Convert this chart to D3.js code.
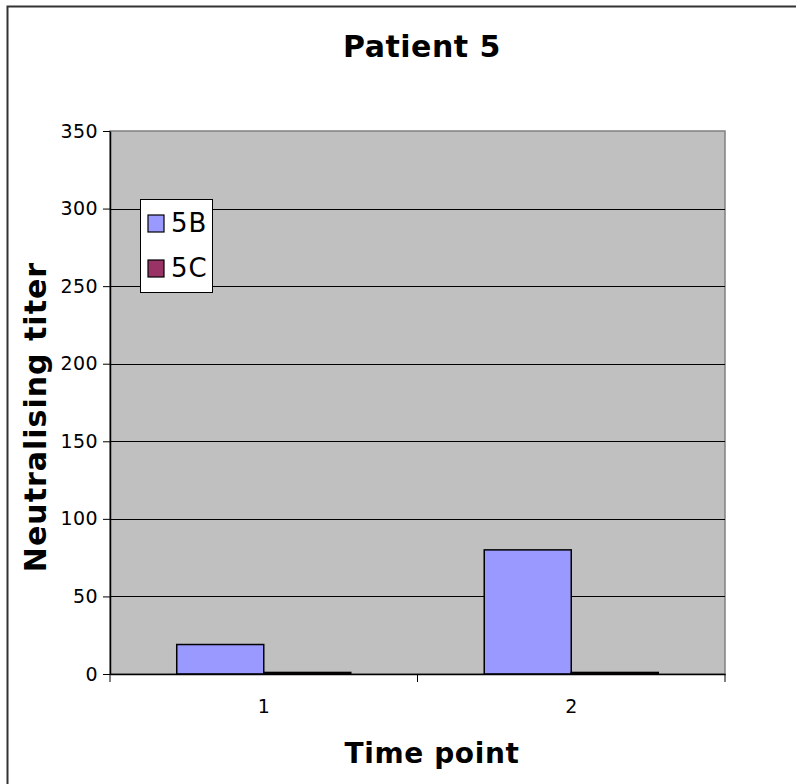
<!doctype html>
<html>
  <head>
    <meta charset="utf-8">
    <script src="https://cdn.jsdelivr.net/npm/d3@7"></script>
    <style>
      body { margin: 0; background: white; }
      svg text { font-family: "DejaVu Sans", Verdana, sans-serif; }
    </style>
  </head>
  <body>
    <svg id="chart" width="796" height="784"></svg>
    <script>
      // data
      const timePoints = ["1", "2"]
      const seriesNames = ["5B", "5C"]
      const seriesColors = ["#9999ff", "#993366"]
      const values5B = [19, 80]
      const values5C = [1, 1]
      const yTicks = [0, 50, 100, 150, 200, 250, 300, 350]

      const rows = timePoints.map((t, i) => ({ t: t, "5B": values5B[i], "5C": values5C[i] }))

      const plot = { left: 110, right: 725, top: 131, bottom: 674 }

      const svg = d3.select("#chart")

      // outer frame (runs off the right and bottom of the picture)
      svg.append("rect")
        .attr("x", 7.5).attr("y", 6.5)
        .attr("width", 820).attr("height", 820)
        .attr("fill", "white")
        .attr("stroke", "#333").attr("stroke-width", 2)

      const x0 = d3.scaleBand().domain(timePoints).range([plot.left, plot.right]).padding(0)
      const x1 = d3.scaleBand().domain(seriesNames).range([0, x0.bandwidth()])
                   .paddingInner(0).paddingOuter(0.767)
      const y = d3.scaleLinear().domain([0, 350]).range([plot.bottom, plot.top])
      const color = d3.scaleOrdinal().domain(seriesNames).range(seriesColors)

      // plot area
      svg.append("rect")
        .attr("x", plot.left).attr("y", plot.top)
        .attr("width", plot.right - plot.left).attr("height", plot.bottom - plot.top)
        .attr("fill", "#c0c0c0")
        .attr("stroke", "#808080").attr("stroke-width", 1.5)

      // gridlines
      svg.append("g")
        .selectAll("line")
        .data(yTicks.filter(d => d > 0 && d < 350))
        .enter().append("line")
          .attr("x1", plot.left).attr("x2", plot.right)
          .attr("y1", d => Math.round(y(d)) + 0.5).attr("y2", d => Math.round(y(d)) + 0.5)
          .attr("stroke", "#000").attr("stroke-width", 1)

      // bars
      svg.append("g")
        .selectAll("g")
        .data(rows)
        .enter().append("g")
          .attr("transform", d => "translate(" + x0(d.t) + ",0)")
        .selectAll("rect")
        .data(d => seriesNames.map(k => ({ key: k, value: d[k] })))
        .enter().append("rect")
          .attr("x", d => x1(d.key))
          .attr("y", d => y(d.value))
          .attr("width", x1.bandwidth())
          .attr("height", d => y(0) - y(d.value))
          .attr("fill", d => color(d.key))
          .attr("stroke", "#000").attr("stroke-width", 1.5)

      // y axis
      const yAxis = d3.axisLeft(y).tickValues(yTicks).tickSize(7).tickSizeOuter(0).tickPadding(5)
      const yG = svg.append("g")
        .attr("transform", "translate(" + plot.left + ",0)")
        .call(yAxis)
      yG.attr("font-size", null).attr("font-family", null)
      yG.select(".domain").attr("stroke", "#000").attr("stroke-width", 1.5)
      yG.selectAll("text")
        .style("font-size", "19px").attr("letter-spacing", 0.4).attr("fill", "#000")

      // x axis: labels centred, ticks at category boundaries
      const xAxis = d3.axisBottom(x0).tickSize(0).tickPadding(26)
      const xG = svg.append("g")
        .attr("transform", "translate(0," + plot.bottom + ")")
        .call(xAxis)
      xG.attr("font-size", null).attr("font-family", null)
      xG.select(".domain").attr("stroke", "#000").attr("stroke-width", 1.5)
      xG.selectAll("text")
        .style("font-size", "19px").attr("fill", "#000")

      const edges = timePoints.map(t => x0(t)).concat([x0.range()[1]])
      xG.selectAll(".edge")
        .data(edges)
        .enter().append("line")
          .attr("class", "edge")
          .attr("x1", d => d).attr("x2", d => d)
          .attr("y1", 0).attr("y2", 8)
          .attr("stroke", "#000").attr("stroke-width", 1)

      // titles
      svg.append("text")
        .attr("x", 422).attr("y", 57)
        .attr("text-anchor", "middle")
        .style("font-size", "30px").attr("font-weight", "bold")
        .attr("letter-spacing", 0.5)
        .text("Patient 5")

      svg.append("text")
        .attr("x", 432).attr("y", 763)
        .attr("text-anchor", "middle")
        .style("font-size", "28px").attr("font-weight", "bold")
        .attr("letter-spacing", 0.6)
        .text("Time point")

      svg.append("text")
        .attr("transform", "translate(46,417) rotate(-90)")
        .attr("text-anchor", "middle")
        .style("font-size", "30px").attr("font-weight", "bold")
        .attr("letter-spacing", 1)
        .text("Neutralising titer")

      // legend
      const legend = svg.append("g").attr("transform", "translate(140,199)")
      legend.append("rect")
        .attr("x", 0.5).attr("y", 0.5).attr("width", 72).attr("height", 93)
        .attr("fill", "white").attr("stroke", "#000").attr("stroke-width", 1)

      const item = legend.selectAll(".item")
        .data(seriesNames)
        .enter().append("g")
          .attr("class", "item")
          .attr("transform", (d, i) => "translate(0," + (i * 45) + ")")
      item.append("rect")
        .attr("x", 8).attr("y", 16).attr("width", 16).attr("height", 17)
        .attr("fill", d => color(d)).attr("stroke", "#000").attr("stroke-width", 1.2)
      item.append("text")
        .attr("x", 31).attr("y", 33)
        .style("font-size", "26px").attr("letter-spacing", 1)
        .text(d => d)
    </script>
  </body>
</html>
